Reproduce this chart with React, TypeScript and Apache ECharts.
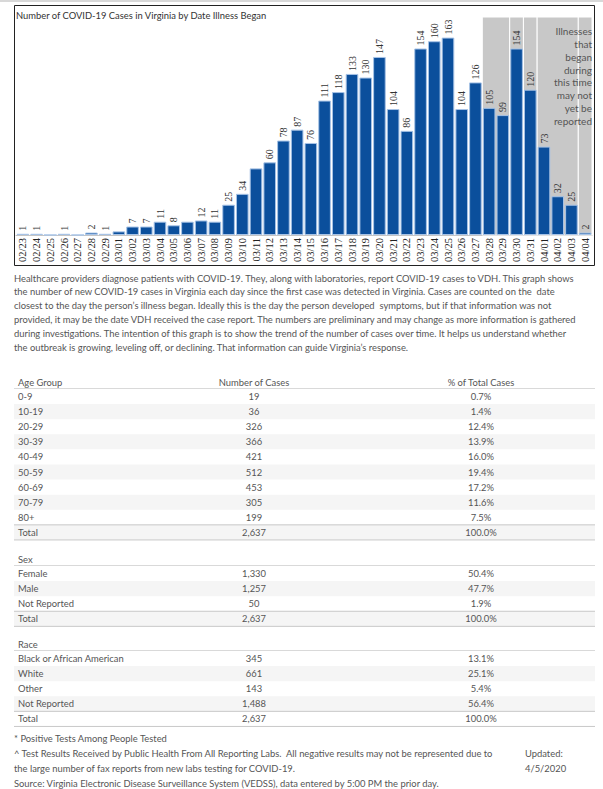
import React, { useEffect, useRef } from "react";
import * as echarts from "echarts";

const chartTitle = "Number of COVID-19 Cases in Virginia by Date Illness Began";
const dates = [
  "02/23", "02/24", "02/25", "02/26", "02/27", "02/28", "02/29",
  "03/01", "03/02", "03/03", "03/04", "03/05", "03/06", "03/07", "03/08", "03/09", "03/10",
  "03/11", "03/12", "03/13", "03/14", "03/15", "03/16", "03/17", "03/18", "03/19", "03/20",
  "03/21", "03/22", "03/23", "03/24", "03/25", "03/26", "03/27", "03/28", "03/29", "03/30",
  "03/31", "04/01", "04/02", "04/03", "04/04",
];
const cases = [
  1, 1, 0, 1, 0, 2, 1,
  3, 7, 7, 11, 8, 11, 12, 11, 25, 34,
  55, 60, 78, 87, 76, 111, 118, 133, 130, 147,
  104, 86, 154, 160, 163, 104, 126, 105, 99, 154,
  120, 73, 32, 25, 2,
];
const unlabeledDates = ["02/25", "02/27", "03/01", "03/06", "03/11"];
// gray "may not yet be reported" period, split into cells as in the source
const lagCellStarts = ["03/28", "03/30", "03/31", "04/01", "04/04"];
const lagNote = ["Illnesses", "that", "began", "during", "this time", "may not", "yet be", "reported"];

const noteLines = [
  "Healthcare providers diagnose patients with COVID-19. They, along with laboratories, report COVID-19 cases to VDH. This graph shows",
  "the number of new COVID-19 cases in Virginia each day since the first case was detected in Virginia. Cases are counted on the  date",
  "closest to the day the person\u2019s illness began. Ideally this is the day the person developed  symptoms, but if that information was not",
  "provided, it may be the date VDH received the case report. The numbers are preliminary and may change as more information is gathered",
  "during investigations. The intention of this graph is to show the trend of the number of cases over time. It helps us understand whether",
  "the outbreak is growing, leveling off, or declining. That information can guide Virginia\u2019s response.",
];

const colHeaders = ["Number of Cases", "% of Total Cases"];
const ageGroups = ["0-9", "10-19", "20-29", "30-39", "40-49", "50-59", "60-69", "70-79", "80+"];
const ageCases = [19, 36, 326, 366, 421, 512, 453, 305, 199];
const agePct = [0.7, 1.4, 12.4, 13.9, 16.0, 19.4, 17.2, 11.6, 7.5];
const sexGroups = ["Female", "Male", "Not Reported"];
const sexCases = [1330, 1257, 50];
const sexPct = [50.4, 47.7, 1.9];
const raceGroups = ["Black or African American", "White", "Other", "Not Reported"];
const raceCases = [345, 661, 143, 1488];
const racePct = [13.1, 25.1, 5.4, 56.4];

const footLines = [
  "* Positive Tests Among People Tested",
  "^ Test Results Received by Public Health From All Reporting Labs.  All negative results may not be represented due to",
  "the large number of fax reports from new labs testing for COVID-19.",
  "Source: Virginia Electronic Disease Surveillance System (VEDSS), data entered by 5:00 PM the prior day.",
];
const updatedLines = ["Updated:", "4/5/2020"];

const FONT = "Lato";
const TXT = "#555";
const FS = 9.4;

function txt(text: string, x: number, y: number, opts: any = {}) {
  const align = opts.align || "left";
  return {
    type: "text",
    x,
    y,
    z: 20,
    silent: true,
    style: {
      text,
      fontFamily: FONT,
      fontSize: opts.size || FS,
      fill: opts.color || TXT,
      align,
      textAlign: align,
      verticalAlign: "middle",
      textVerticalAlign: "middle",
      lineHeight: opts.lineHeight,
    },
  };
}

function hline(x1: number, x2: number, y: number, color: string) {
  return {
    type: "line",
    z: 15,
    silent: true,
    shape: { x1, y1: y, x2, y2: y },
    style: { stroke: color, lineWidth: 1 },
  };
}

function buildTable(
  header: string,
  labels: string[],
  counts: number[],
  pcts: number[],
  headerY: number,
  withCols: boolean
) {
  const els: any[] = [];
  const rowH = 15.1;
  const firstY = headerY + 14.5;
  const colX = [18, 254, 481];
  els.push(txt(header, colX[0], headerY));
  if (withCols) {
    els.push(txt(colHeaders[0], colX[1], headerY, { align: "center" }));
    els.push(txt(colHeaders[1], colX[2], headerY, { align: "center" }));
  }
  els.push(hline(14, 595, headerY + 6.5, "#d9d9d9"));
  const total = counts.reduce((a, b) => a + b, 0);
  const rows = labels.map((l, i) => [l, counts[i], pcts[i]] as [string, number, number]);
  rows.push(["Total", total, 100]);
  rows.forEach((r, i) => {
    const y = firstY + i * rowH;
    if (i % 2 === 1) {
      els.push({
        type: "rect",
        z: 10,
        silent: true,
        shape: { x: 14, y: y - rowH / 2, width: 581, height: rowH },
        style: { fill: "#f5f5f5" },
      });
    }
    els.push(txt(r[0], colX[0], y));
    els.push(txt(r[1].toLocaleString("en-US"), colX[1], y, { align: "center" }));
    els.push(txt(r[2].toFixed(1) + "%", colX[2], y, { align: "center" }));
  });
  const totalY = firstY + (rows.length - 1) * rowH;
  els.push(hline(14, 595, totalY - rowH / 2, "#c8c8c8"));
  els.push(hline(14, 595, totalY + rowH / 2, "#c8c8c8"));
  return els;
}

export default function App() {
  const ref = useRef<HTMLDivElement>(null);
  useEffect(() => {
    document.body.style.margin = "0";
    const chart = echarts.init(ref.current!, undefined, { renderer: "svg" });

    const barData = cases.map((v, i) => ({
      value: v,
      label: { show: !unlabeledDates.includes(dates[i]) },
    }));

    const lagIdx = lagCellStarts.map((d) => dates.indexOf(d));
    const areaData = lagIdx.map((s, i) => [
      { xAxis: s },
      { xAxis: i + 1 < lagIdx.length ? lagIdx[i + 1] : dates.length },
    ]);

    const graphic: any[] = [
      { type: "rect", z: 5, silent: true, shape: { x: 0, y: 0, width: 603, height: 2 }, style: { fill: "#d8d8d8" } },
      {
        type: "rect",
        z: 30,
        silent: true,
        shape: { x: 14.5, y: 5.5, width: 580, height: 260 },
        style: { fill: "none", stroke: "#222", lineWidth: 1 },
      },
      txt(chartTitle, 16, 15, { color: "#333" }),
      txt(lagNote.join("\n"), 592, 76, { align: "right", lineHeight: 12.8, size: 10 }),
    ];
    noteLines.forEach((l, i) => graphic.push(txt(l, 14, 278 + i * 13.8)));
    graphic.push(...buildTable("Age Group", ageGroups, ageCases, agePct, 382, true));
    graphic.push(...buildTable("Sex", sexGroups, sexCases, sexPct, 559, false));
    graphic.push(...buildTable("Race", raceGroups, raceCases, racePct, 644, false));
    footLines.forEach((l, i) => graphic.push(txt(l, 14, 738 + i * 15.3)));
    updatedLines.forEach((l, i) => graphic.push(txt(l, 525, 753.3 + i * 15.3)));

    chart.setOption({
      animation: false,
      textStyle: { fontFamily: FONT },
      grid: { left: 16, right: 11, top: 17, height: 218, containLabel: false },
      xAxis: [
        {
          type: "category",
          data: dates,
          axisLine: { lineStyle: { color: "#c4c4c4" } },
          axisTick: { show: false },
          axisLabel: {
            rotate: 90,
            interval: 0,
            margin: 3,
            fontFamily: "Liberation Serif",
            fontSize: 10.5,
            color: "#222",
          },
        },
        { type: "value", min: 0, max: dates.length, show: false },
      ],
      yAxis: { type: "value", min: 0, max: 180, show: false, splitLine: { show: false } },
      series: [
        {
          type: "line",
          xAxisIndex: 1,
          data: [],
          symbol: "none",
          silent: true,
          z: 1,
          markArea: {
            silent: true,
            itemStyle: { color: "#c8c8c8", borderColor: "#ffffff", borderWidth: 1 },
            data: areaData,
          },
        },
        {
          type: "bar",
          data: barData,
          z: 3,
          barCategoryGap: "8%",
          itemStyle: { color: "#0b4f9c", borderColor: "#a7c3e6", borderWidth: 1 },
          label: {
            position: "top",
            rotate: 90,
            align: "left",
            verticalAlign: "middle",
            distance: 3,
            fontFamily: "Liberation Serif",
            fontSize: 10,
            color: "#333",
          },
        },
      ],
      graphic,
    });
    return () => chart.dispose();
  }, []);
  return <div ref={ref} style={{ width: 603, height: 789 }} />;
}
